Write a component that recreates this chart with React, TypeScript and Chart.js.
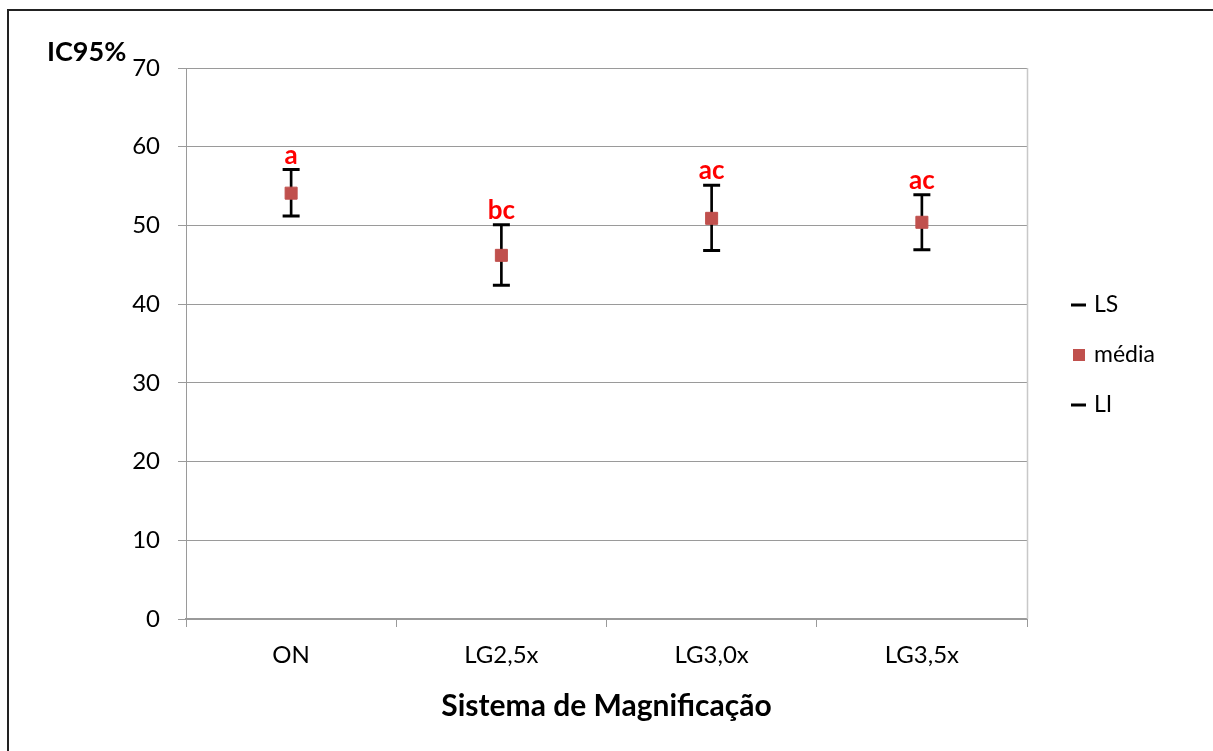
import React, { useEffect, useRef } from "react";
import { Chart, registerables } from "chart.js";

Chart.register(...registerables);

const categories = ["ON", "LG2,5x", "LG3,0x", "LG3,5x"];
const lsValues = [57.1, 50.1, 55.1, 53.9];
const meanValues = [54.1, 46.2, 50.9, 50.4];
const liValues = [51.2, 42.4, 46.8, 46.9];
const groupLetters = ["a", "bc", "ac", "ac"];
const yTickValues = [0, 10, 20, 30, 40, 50, 60, 70];
const yAxisTitle = "IC95%";
const xAxisTitle = "Sistema de Magnificação";
const legendLabels = ["LS", "média", "LI"];

const FONT = "Lato, 'Open Sans', sans-serif";
const MEAN_COLOR = "#C0504D";

const extrasPlugin = {
  id: "extras",
  afterDraw(chart: any) {
    const ctx = chart.ctx;
    const xs = chart.scales.x;
    const ys = chart.scales.y;
    const area = chart.chartArea;
    ctx.save();
    // plot area right border
    ctx.strokeStyle = "#c8c8c8";
    ctx.lineWidth = 1.5;
    ctx.beginPath();
    ctx.moveTo(Math.round(area.right) + 0.5, area.top);
    ctx.lineTo(Math.round(area.right) + 0.5, area.bottom);
    ctx.stroke();

    // group letters
    ctx.fillStyle = "#FF0000";
    ctx.font = `bold 26px ${FONT}`;
    ctx.textAlign = "center";
    ctx.textBaseline = "alphabetic";
    groupLetters.forEach((t, i) => {
      const x = xs.getPixelForValue(i);
      const y = ys.getPixelForValue(lsValues[i]);
      ctx.fillText(t, x, y - 6);
    });

    // y axis title
    ctx.fillStyle = "#000";
    ctx.font = `bold 27px ${FONT}`;
    ctx.textAlign = "left";
    ctx.fillText(yAxisTitle, 47, 61);

    // legend
    const items = chart.data.datasets.filter((d: any) => legendLabels.includes(d.label));
    ctx.font = `23px ${FONT}`;
    ctx.textBaseline = "middle";
    items.forEach((d: any, i: number) => {
      const cy = 305 + i * 50;
      if (d.pointStyle === "rect") {
        ctx.fillStyle = d.backgroundColor;
        ctx.fillRect(1073, cy - 6, 12, 12);
      } else {
        ctx.fillStyle = d.borderColor;
        ctx.fillRect(1071, cy - 1.5, 15, 3);
      }
      ctx.fillStyle = "#000";
      ctx.fillText(d.label, 1094, cy);
    });
    ctx.restore();
  },
};

export default function App() {
  const ref = useRef<HTMLCanvasElement | null>(null);

  useEffect(() => {
    document.body.style.overflow = "hidden";
    if (!ref.current) return;
    const chart = new Chart(ref.current, {
      type: "bar",
      data: {
        labels: categories,
        datasets: [
          {
            type: "line",
            label: "LS",
            data: lsValues,
            showLine: false,
            pointStyle: "line",
            pointRadius: 8.5,
            pointBorderWidth: 3,
            borderColor: "#000",
            backgroundColor: "#000",
            order: 1,
          } as any,
          {
            type: "line",
            label: "média",
            data: meanValues,
            showLine: false,
            pointStyle: "rect",
            pointRadius: 8.5,
            pointBorderWidth: 1,
            borderColor: MEAN_COLOR,
            backgroundColor: MEAN_COLOR,
            order: 1,
          } as any,
          {
            type: "line",
            label: "LI",
            data: liValues,
            showLine: false,
            pointStyle: "line",
            pointRadius: 8.5,
            pointBorderWidth: 3,
            borderColor: "#000",
            backgroundColor: "#000",
            order: 1,
          } as any,
          {
            type: "bar",
            label: "range",
            data: categories.map((_, i) => [liValues[i], lsValues[i]]),
            backgroundColor: "#000",
            barThickness: 2,
            order: 10,
          } as any,
        ],
      },
      options: {
        responsive: false,
        animation: false,
        layout: { padding: { top: 68, right: 186, bottom: 0, left: 0 } },
        plugins: { legend: { display: false }, tooltip: { enabled: false } },
        scales: {
          x: {
            offset: true,
            grid: {
              offset: true,
              drawOnChartArea: false,
              drawTicks: true,
              tickLength: 8,
              color: "#9a9a9a",
              lineWidth: 1,
            },
            border: { color: "#9a9a9a", width: 2 },
            ticks: {
              color: "#000",
              font: { family: FONT, size: 24 },
              padding: 14,
              maxRotation: 0,
            },
            title: {
              display: true,
              text: xAxisTitle,
              color: "#000",
              font: { family: FONT, size: 30, weight: "bold" },
              padding: { top: 0, bottom: 27 },
            },
            afterFit(scale: any) {
              scale.height = 132;
            },
          },
          y: {
            min: 0,
            max: 70,
            afterBuildTicks(scale: any) {
              scale.ticks = yTickValues.map((v) => ({ value: v }));
            },
            grid: { color: "#9a9a9a", lineWidth: 1, tickLength: 8 },
            border: { color: "#9a9a9a", width: 1 },
            ticks: {
              color: "#000",
              font: { family: FONT, size: 24 },
              padding: 18,
            },
            afterFit(scale: any) {
              scale.width = 186;
            },
          },
        },
      },
      plugins: [extrasPlugin],
    });
    return () => chart.destroy();
  }, []);

  return (
    <div
      style={{
        position: "fixed",
        left: 0,
        top: 0,
        width: 1213,
        height: 751,
        overflow: "hidden",
        background: "#fff",
      }}
    >
      <canvas ref={ref} width={1213} height={751} style={{ display: "block" }} />
      <div
        style={{
          position: "absolute",
          left: 7,
          top: 9,
          width: 1300,
          height: 900,
          borderLeft: "2px solid #222",
          borderTop: "2px solid #222",
          pointerEvents: "none",
        }}
      />
    </div>
  );
}
